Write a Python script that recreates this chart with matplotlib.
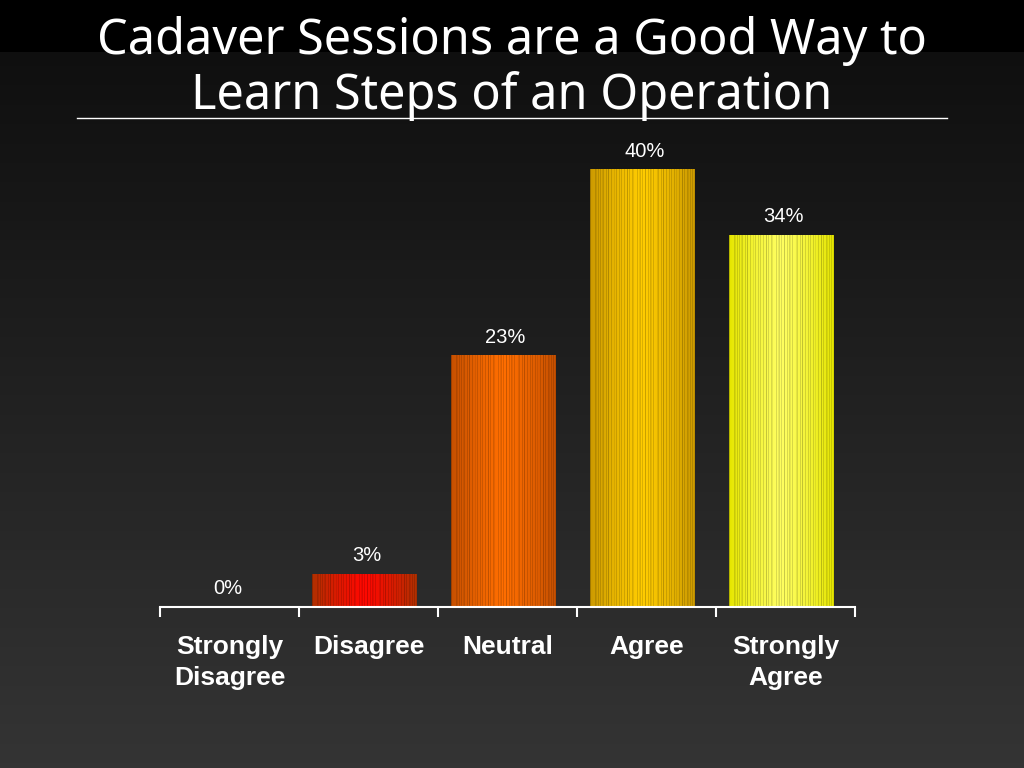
import numpy as np
import matplotlib
matplotlib.use("Agg")
import matplotlib.pyplot as plt
from matplotlib.colors import to_rgb
from matplotlib.lines import Line2D

categories = ["Strongly\nDisagree", "Disagree", "Neutral", "Agree", "Strongly\nAgree"]
values = [0, 3, 23, 40, 34]
value_labels = ["0%", "3%", "23%", "40%", "34%"]
title_lines = ["Cadaver Sessions are a Good Way to", "Learn Steps of an Operation"]

edge_colors = ["#a02800", "#b03000", "#c65000", "#cc9a00", "#e6e600"]
center_colors = ["#ff0000", "#ff0800", "#ff6e00", "#ffcc00", "#ffff60"]

W, H = 1024, 768
fig = plt.figure(figsize=(W / 100, H / 100), dpi=100)

# background
bg = fig.add_axes([0, 0, 1, 1])
bg.set_axis_off()
n = 768
col = np.zeros((n, 1, 3))
for i in range(n):
    if i < 52:
        v = 0.0
    else:
        t = (i - 52) / (768 - 52)
        v = 0.06 + t * (0.205 - 0.06)
    col[i, 0, :] = v
bg.imshow(col, aspect="auto", extent=[0, 1, 0, 1], origin="upper")
bg.set_xlim(0, 1)
bg.set_ylim(0, 1)

for line, base_px in zip(title_lines, [54, 109]):
    fig.text(0.5, 1 - base_px / H, line, ha="center", va="baseline", color="white",
             fontsize=35, family=["Noto Sans", "DejaVu Sans"])
fig.add_artist(Line2D([77 / W, 947 / W], [1 - 118 / H, 1 - 118 / H],
                      color="white", lw=1.0))

left, right = 160 / W, 855 / W
bottom = 1 - 607 / H
scale = 10.93
ymax = 45
top_px = 607 - ymax * scale
ax = fig.add_axes([left, bottom, right - left, (607 - top_px) / H])
ax.patch.set_visible(False)
ax.set_xlim(-0.5, len(categories) - 0.5)
ax.set_ylim(0, ymax)

x = np.arange(len(categories))
bar_shift = -0.03
bars = ax.bar(x + bar_shift, values, width=0.755, color="none", edgecolor="none")

# striped horizontal gradient per bar
ncol = 120
pos = np.linspace(-1, 1, ncol)
stripe = np.array([1.0 if (k % 3) else 0.86 for k in range(ncol)])
stripe = stripe * np.array([1.0 if (k % 7) else 0.92 for k in range(ncol)])
for b, ec, cc in zip(bars, edge_colors, center_colors):
    h = b.get_height()
    if h <= 0:
        continue
    e = np.array(to_rgb(ec))
    c = np.array(to_rgb(cc))
    w = np.abs(pos) ** 1.2
    img = (c[None, :] * (1 - w[:, None]) + e[None, :] * w[:, None]) * stripe[:, None]
    img = np.clip(img, 0, 1)[None, :, :]
    x0 = b.get_x()
    ax.imshow(img, aspect="auto", extent=[x0, x0 + b.get_width(), 0, h],
              interpolation="nearest", zorder=2)
ax.set_xlim(-0.5, len(categories) - 0.5)
ax.set_ylim(0, ymax)

for xi, v, lab in zip(x, values, value_labels):
    ax.annotate(lab, (xi + bar_shift / 2, v), xytext=(0, 6.5), textcoords="offset points",
                ha="center", va="bottom", color="white", fontsize=14.5,
                family="Liberation Sans")

for s in ["top", "right", "left"]:
    ax.spines[s].set_visible(False)
ax.spines["bottom"].set_color("white")
ax.spines["bottom"].set_linewidth(1.5)
ax.set_yticks([])
ax.set_xticks(x)
ax.set_xticklabels(categories, color="white", fontsize=19,
                   family="Liberation Sans", fontweight="bold", linespacing=1.4)
ax.tick_params(axis="x", which="major", length=0, pad=20)
ax.set_xticks(np.arange(-0.5, len(categories), 1.0), minor=True)
ax.tick_params(axis="x", which="minor", length=7, width=1.5, color="white",
               direction="out")

fig.savefig("out.png", dpi=100)
